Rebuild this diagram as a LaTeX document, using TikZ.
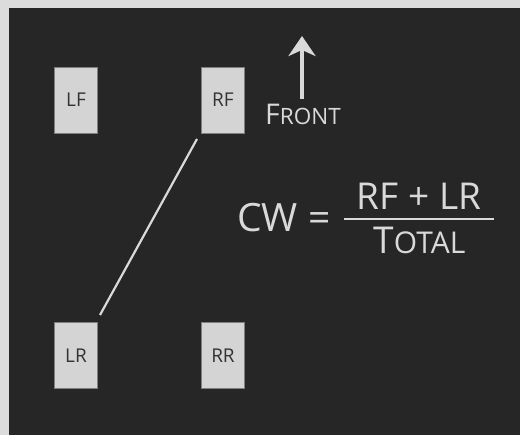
\documentclass[tikz,border=0pt]{standalone}
\usepackage{fontspec}
\setmainfont{Open Sans}
\usetikzlibrary{arrows.meta}
\definecolor{bgdark}{HTML}{262626}
\definecolor{bgframe}{HTML}{DCDCDC}
\definecolor{boxfill}{HTML}{D4D4D4}
\definecolor{boxline}{HTML}{7F7F7F}
\definecolor{boxtext}{HTML}{333333}
\definecolor{lighttext}{HTML}{D9D9D9}
\newcommand{\fsz}[1]{\fontsize{#1}{#1}\selectfont}
\begin{document}
\begin{tikzpicture}[x=1pt,y=-1pt,
  wheel/.style={draw=boxline,line width=0.8pt,fill=boxfill,minimum width=43pt,minimum height=66pt,inner sep=0pt,text=boxtext,font=\fsz{19}},
  lbl/.style={text=lighttext,inner sep=0pt,anchor=base},
  conn/.style={draw=lighttext,line width=2.2pt},
  frontarrow/.style={draw=lighttext,fill=lighttext,line width=4pt,-{Stealth[length=20pt,width=27pt,inset=6pt]}}]
\useasboundingbox (0,0) rectangle (520,435);
\fill[bgframe] (0,0) rectangle (520,435);
\fill[bgdark] (9,8) rectangle (520,435);
\node[wheel] (LF) at (76,100) {LF};
\node[wheel] (RF) at (223,100) {RF};
\node[wheel] (LR) at (76,355.5) {LR};
\node[wheel] (RR) at (223,355.5) {RR};
\coordinate (c1) at (197,139);
\coordinate (c2) at (100,315);
\draw[conn] (c1) -- (c2);
\coordinate (a1) at (302,99);
\coordinate (a2) at (302,36);
\draw[frontarrow] (a1) -- (a2);
\node[lbl,anchor=base west] (front) at (265,125) {\fsz{28.5}F\fsz{22.5}RONT};
\node[lbl,anchor=base west] (cw) at (237,232) {\fsz{39}CW =};
\node[lbl] (num) at (419,210) {\fsz{37}RF + LR};
\coordinate (f1) at (344,219);
\coordinate (f2) at (494,219);
\draw[lighttext,line width=2.2pt] (f1) -- (f2);
\node[lbl] (den) at (419.5,254) {\fsz{37}T\fsz{30}OTAL};
\end{tikzpicture}
\end{document}
